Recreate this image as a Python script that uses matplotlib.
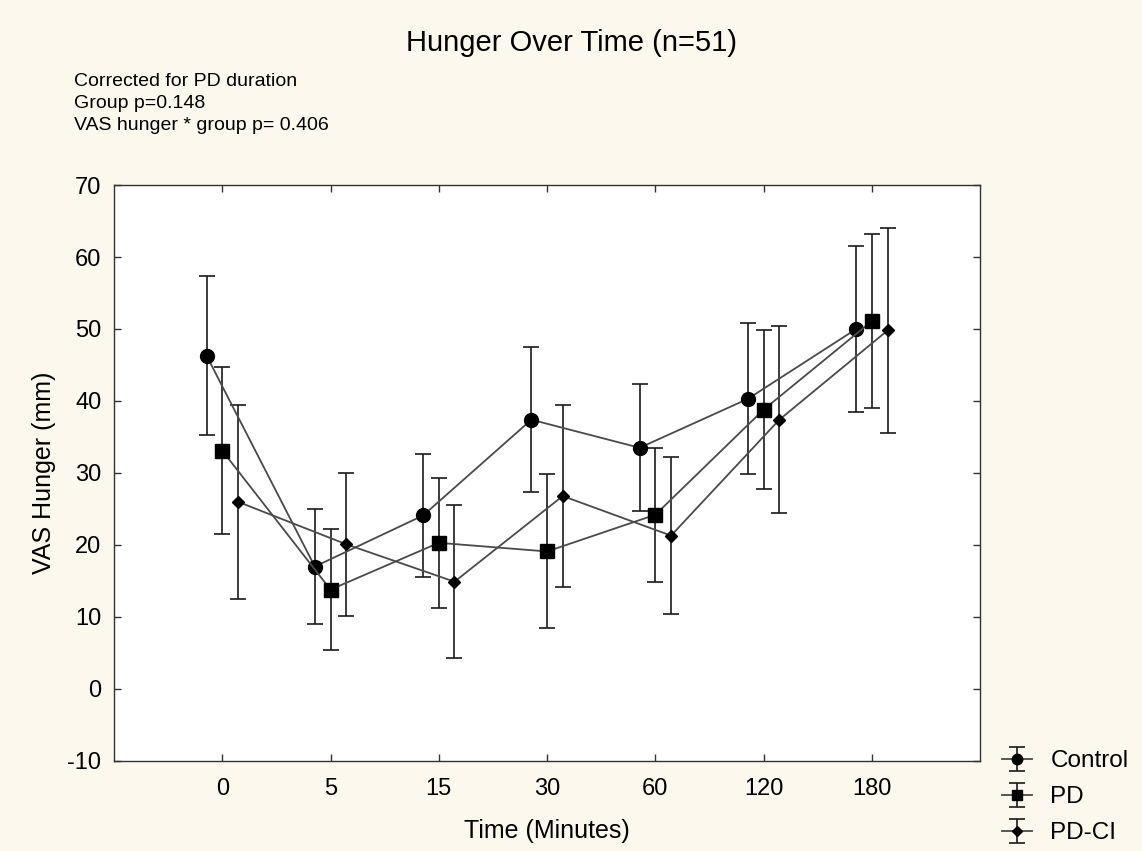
import numpy as np
import matplotlib.pyplot as plt

plt.rcParams['font.family'] = ['Liberation Sans', 'DejaVu Sans']
plt.rcParams['axes.unicode_minus'] = False

# data (VAS hunger, mm)
time_labels = ['0', '5', '15', '30', '60', '120', '180']

control_mean = [46.3, 17.0, 24.1, 37.4, 33.5, 40.3, 50.0]
control_err = [11.0, 8.0, 8.5, 10.1, 8.8, 10.5, 11.5]

pd_mean = [33.1, 13.8, 20.3, 19.1, 24.2, 38.8, 51.1]
pd_err = [11.6, 8.4, 9.0, 10.7, 9.3, 11.0, 12.1]

pdci_mean = [26.0, 20.1, 14.9, 26.8, 21.3, 37.4, 49.8]
pdci_err = [13.5, 9.9, 10.6, 12.6, 10.9, 13.0, 14.2]

bg = '#fdf8ee'
fig = plt.figure(figsize=(11.42, 8.51), dpi=100, facecolor=bg)
ax = fig.add_axes([0.0998, 0.1058, 0.7585, 0.6768])
ax.set_facecolor('white')

x = np.arange(len(time_labels))
offset = 0.145

series = [
    ('Control', control_mean, control_err, 'o', 10, -offset),
    ('PD', pd_mean, pd_err, 's', 10, 0.0),
    ('PD-CI', pdci_mean, pdci_err, 'D', 6.5, offset),
]
for name, m, e, mk, ms, dx in series:
    ax.errorbar(x + dx, m, yerr=e, fmt='-' + mk, color='#4a4a4a', ms=ms,
                mfc='black', mec='black',
                ecolor='#1a1a1a', elinewidth=1.2, capsize=5.5, capthick=1.2,
                linewidth=1.3, label=name)

ax.set_xlim(-1, 7)
ax.set_ylim(-10, 70)
ax.set_xticks(x)
ax.set_xticklabels(time_labels)
ax.set_yticks(np.arange(-10, 71, 10))
ax.tick_params(direction='in', top=True, right=True, length=5,
               labelsize=17, width=1, color='#333333')
ax.tick_params(axis='y', pad=9)
ax.tick_params(axis='x', pad=12)
for s in ax.spines.values():
    s.set_linewidth(1.0)
    s.set_color('#333333')

ax.set_xlabel('Time (Minutes)', fontsize=18, labelpad=14)
ax.set_ylabel('VAS Hunger (mm)', fontsize=18, labelpad=8)

fig.text(0.5, 0.949, 'Hunger Over Time (n=51)', ha='center', va='center', fontsize=21)
fig.text(0.065, 0.914,
         'Corrected for PD duration\nGroup p=0.148\nVAS hunger * group p= 0.406',
         ha='left', va='top', fontsize=14, linespacing=1.38)

leg = fig.legend(loc='lower left', bbox_to_anchor=(0.858, -0.018), frameon=False,
                 fontsize=17.5, handlelength=1.25, handletextpad=0.75,
                 labelspacing=0.58, markerscale=0.75)

fig.savefig('out.png', dpi=100, facecolor=bg)
